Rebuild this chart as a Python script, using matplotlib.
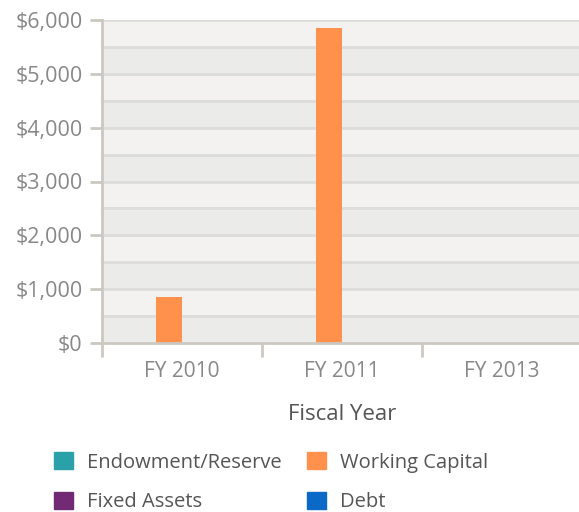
import matplotlib

matplotlib.use("Agg")

import matplotlib.pyplot as plt
import numpy as np
from matplotlib.patches import Patch
from matplotlib.ticker import FuncFormatter, MultipleLocator

plt.rcParams["font.family"] = ["Open Sans", "DejaVu Sans"]

CATEGORIES = ["FY 2010", "FY 2011", "FY 2013"]
SERIES = ["Endowment/Reserve", "Working Capital", "Fixed Assets", "Debt"]
ENDOWMENT = [0, 0, 0]
WORKING_CAPITAL = [850, 5850, 0]
FIXED_ASSETS = [0, 0, 0]
DEBT = [0, 0, 0]
COLORS = ["#2aa1a8", "#ff914d", "#722a75", "#0a69c7"]

W, H = 579, 512
fig = plt.figure(figsize=(W / 100, H / 100), dpi=100)
ax = fig.add_axes([102 / W, (H - 343) / H, 480 / W, 323 / H])

# alternating bands and grid lines every 500
for i, lo in enumerate(range(0, 6000, 500)):
    ax.axhspan(lo, lo + 500, color="#f3f2f0" if i % 2 else "#ebecea", zorder=0, lw=0)
    if lo > 0:
        ax.axhline(lo, color="#dcdcda", lw=2, zorder=1)
ax.axhline(6000, color="#dcdcda", lw=2, zorder=1)

values = [ENDOWMENT, WORKING_CAPITAL, FIXED_ASSETS, DEBT]
bar_w = 26 / 160
x = np.arange(len(CATEGORIES))
for k, (vals, color) in enumerate(zip(values, COLORS)):
    ax.bar(x + (k - 1.5) * bar_w, vals, width=bar_w, color=color, zorder=2, lw=0)

ax.set_xlim(-0.5, 2.5)
ax.set_ylim(0, 6000)
ax.yaxis.set_major_locator(MultipleLocator(1000))
ax.yaxis.set_major_formatter(FuncFormatter(lambda v, _: f"${v:,.0f}"))
ax.set_xticks(x)
ax.set_xticklabels(CATEGORIES)
ax.set_xticks([-0.5, 0.5, 1.5, 2.5], minor=True)

for side in ("top", "right"):
    ax.spines[side].set_visible(False)
for side in ("left", "bottom"):
    ax.spines[side].set_color("#ccc7c1")
    ax.spines[side].set_linewidth(2)
    ax.spines[side].set_zorder(3)

ax.tick_params(axis="y", length=9, width=2, color="#ccc7c1", labelsize=15.5,
               labelcolor="#888888", pad=5)
ax.tick_params(axis="x", which="major", length=0, labelsize=15,
               labelcolor="#888888", pad=13)
ax.tick_params(axis="x", which="minor", length=10, width=2, color="#ccc7c1")

ax.set_xlabel("Fiscal Year", fontsize=16, color="#555555", labelpad=16)

handles = [Patch(color=c) for c in COLORS]
legend_style = dict(
    loc="upper left",
    frameon=False,
    fontsize=14.5,
    labelcolor="#555555",
    handlelength=0.95,
    handleheight=0.95,
    handletextpad=0.7,
    labelspacing=0.95,
    borderpad=0,
    borderaxespad=0,
)
# two legend columns, placed like the original's rows
fig.legend([handles[0], handles[2]], [SERIES[0], SERIES[2]],
           bbox_to_anchor=(54 / W, 1 - 452 / H), **legend_style)
fig.legend([handles[1], handles[3]], [SERIES[1], SERIES[3]],
           bbox_to_anchor=(307 / W, 1 - 452 / H), **legend_style)

fig.savefig("out.png", dpi=100)
